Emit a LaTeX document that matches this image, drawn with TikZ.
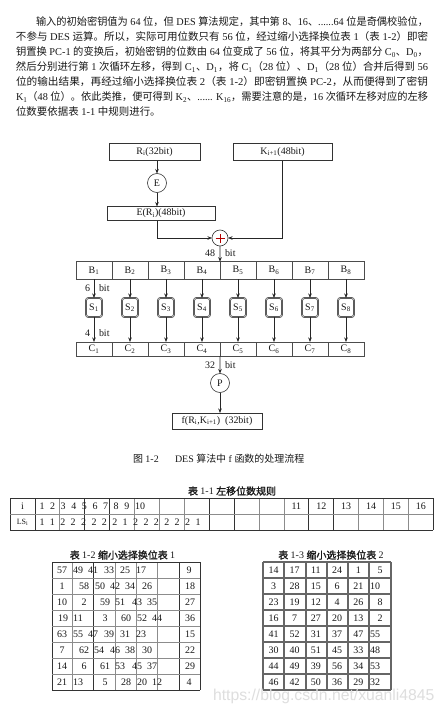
\documentclass[tikz,border=0pt]{standalone}
\usepackage{fontspec}
\usepackage{graphicx}
\usetikzlibrary{arrows.meta}
\setmainfont{Liberation Serif}
\newfontfamily\cjkf{Noto Sans CJK SC}
\newfontfamily\cjkb[FakeBold=1.5]{Noto Sans CJK SC}
\newfontfamily\wmfont{Liberation Sans}
\XeTeXinterchartokenstate=1
\newXeTeXintercharclass\CJKcls
\newcount\cjkcc
\def\setcjkrange#1#2{\cjkcc=#1 \loop\XeTeXcharclass\cjkcc=\CJKcls\relax\advance\cjkcc by 1 \ifnum\cjkcc<#2 \repeat}
\setcjkrange{"3000}{"3040}
\setcjkrange{"4E00}{"A000}
\setcjkrange{"FF00}{"FFF0}
\def\curcjk{\cjkf}
\XeTeXinterchartoks 0 \CJKcls = {\curcjk}
\XeTeXinterchartoks 4095 \CJKcls = {\curcjk}
\XeTeXinterchartoks \CJKcls 0 = {\rmfamily}
\XeTeXinterchartoks \CJKcls 4095 = {\rmfamily}
\begin{document}
\begin{tikzpicture}[x=1bp,y=-1bp,
  every node/.style={inner sep=0pt,outer sep=0pt,text=black!90},
  txt/.style={font=\fontsize{10}{12}\selectfont},
  para/.style={anchor=west,font=\fontsize{10.5}{12}\selectfont},
  ttl/.style={font=\fontsize{10}{12}\selectfont\let\curcjk\cjkb},
  boxn/.style={draw=black!80,line width=0.6bp,txt},
  circn/.style={circle,draw=black!80,line width=0.6bp,txt},
  cell/.style={draw=black!70,line width=0.6bp,minimum width=36bp,txt},
  sbox/.style={draw=black!85,line width=0.5bp,double=black!25,double distance=0.7bp,rounded corners=2.5bp,minimum width=16bp,minimum height=19bp,txt},
  arr/.style={draw=black!85,line width=0.6bp,-{Stealth[length=4.5bp,width=3.5bp]}},
  num/.style={font=\fontsize{10}{12}\selectfont},
  gl/.style={draw=black!45,line width=0.7bp},
  dl/.style={draw=black!80,line width=0.7bp},
  g3/.style={draw=black!60,line width=1.1bp}]
\useasboundingbox[fill=white] (0,0) rectangle (446,717);
% paragraph
\node[para] (p1) at (36,22) {\resizebox{392bp}{\height}{输入的初始密钥值为 64 位，但 DES 算法规定，其中第 8、16、......64 位是奇偶校验位，}};
\node[para] (p2) at (16,37) {\resizebox{412bp}{\height}{不参与 DES 运算。所以，实际可用位数只有 56 位，经过缩小选择换位表 1（表 1-2）即密}};
\node[para] (p3) at (16,52) {\resizebox{412bp}{\height}{钥置换 PC-1 的变换后，初始密钥的位数由 64 位变成了 56 位，将其平分为两部分 C\textsubscript{0}、D\textsubscript{0}，}};
\node[para] (p4) at (16,67) {\resizebox{412bp}{\height}{然后分别进行第 1 次循环左移，得到 C\textsubscript{1}、D\textsubscript{1}，将 C\textsubscript{1}（28 位）、D\textsubscript{1}（28 位）合并后得到 56}};
\node[para] (p5) at (16,82) {\resizebox{412bp}{\height}{位的输出结果，再经过缩小选择换位表 2（表 1-2）即密钥置换 PC-2，从而便得到了密钥}};
\node[para] (p6) at (16,97) {\resizebox{412bp}{\height}{K\textsubscript{1}（48 位）。依此类推，便可得到 K\textsubscript{2}、...... K\textsubscript{16}，需要注意的是，16 次循环左移对应的左移}};
\node[para] (p7) at (16,112) {位数要依据表 1-1 中规则进行。};
% diagram
\node[boxn,minimum width=91bp,minimum height=17.5bp] (R) at (154.5,152) {R\textsubscript{i}(32bit)};
\node[boxn,minimum width=99bp,minimum height=17.5bp] (K) at (282.5,152) {K\textsubscript{i+1}(48bit)};
\node[circn,minimum size=19bp] (E) at (157,183) {E};
\node[boxn,minimum width=108bp,minimum height=14bp] (ER) at (161,213.5) {E(R\textsubscript{i})(48bit)};
\node[circn,minimum size=16bp] (X) at (220,238) {};
\draw[red!70!black,line width=0.6bp] ([xshift=-4.5bp]X.center) -- ([xshift=4.5bp]X.center);
\draw[red!70!black,line width=0.6bp] ([yshift=-4.5bp]X.center) -- ([yshift=4.5bp]X.center);
\draw[arr] (R.south -| E) -- (E.north);
\draw[arr] (E.south) -- (E |- ER.north);
\draw[arr] (E |- ER.south) |- (X.west);
\draw[arr] (K.south) |- (X.east);
\foreach \k in {1,...,8}{
  \node[cell,minimum height=17.5bp] (B\k) at ({58+36*\k},270.5) {B\textsubscript{\k}};
  \node[sbox] (S\k) at ({58+36*\k},307.5) {S\textsubscript{\k}};
  \node[cell,minimum height=14bp] (C\k) at ({58+36*\k},349) {C\textsubscript{\k}};
  \draw[arr] (B\k.south) -- (S\k.north);
  \draw[arr] (S\k.south) -- (C\k.north);
}
\draw[arr] (X.south) -- (B4.north east);
\node[txt,anchor=east] (l48) at (215,253) {48};
\node[txt,anchor=west] (l48b) at (225,253) {bit};
\node[txt,anchor=east] (l6) at (90,288) {6};
\node[txt,anchor=west] (l6b) at (99,288) {bit};
\node[txt,anchor=east] (l4) at (90,333) {4};
\node[txt,anchor=west] (l4b) at (99,333) {bit};
\node[circn,minimum size=19bp] (P) at (220,383) {P};
\draw[arr] (C4.south east) -- (P.north);
\node[txt,anchor=east] (l32) at (215,365) {32};
\node[txt,anchor=west] (l32b) at (225,365) {bit};
\node[boxn,minimum width=90bp,minimum height=16bp] (F) at (217,421) {f(R\textsubscript{i},K\textsubscript{i+1})\enspace(32bit)};
\draw[arr] (P.south) -- (P |- F.north);
\node[txt,anchor=west] (cap1) at (133,459) {图 1-2};
\node[txt,anchor=west] (cap2) at (175,459) {DES 算法中 f 函数的处理流程};
% table 1-1
\node[ttl] (t11) at (232,491) {表 1-1 左移位数规则};
\foreach \j in {2,5,6,7,10,11,14,15,16} \draw[gl] ({10+24.9*\j},498) -- ({10+24.9*\j},530);
\foreach \j in {0,1,3,4,8,9,12,13,17} \draw[dl] ({10+24.9*\j},498) -- ({10+24.9*\j},530);
\draw[gl] (10,514) -- (433.3,514);
\draw[dl] (10,498) -- (433.3,498);
\draw[dl] (10,530) -- (433.3,530);
\node[num] (ti) at (22.5,506) {i};
\node[font=\fontsize{8}{10}\selectfont] (tls) at (22.5,522) {LS\textsubscript{i}};
\foreach \x/\t in {42/1,52.6/2,63.2/3,73.8/4,84.4/5,95/6,105.6/7,116.2/8,126.8/9,140/10} \node[num] at (\x,506) {\t};
\foreach \t [count=\c from 0] in {1,1,2,2,2,2,2,2,1,2,2,2,2,2,2,1} \node[num] at ({42+10.4*\c},522) {\t};
\foreach \t [count=\c from 11] in {11,12,13,14,15,16} \node[num] at ({10+24.9*(\c+0.5)},506) {\t};
% table 1-2
\node[ttl] (t12) at (122.5,555) {表 1-2 缩小选择换位表 1};
\foreach \x in {72,115,136,157} \draw[gl] (\x,562) -- (\x,690);
\foreach \x in {52,93,179,200} \draw[dl] (\x,562) -- (\x,690);
\foreach \k in {1,...,7} \draw[gl] (52,{562+16*\k}) -- (200,{562+16*\k});
\draw[dl] (52,562) -- (200,562);
\draw[dl] (52,690) -- (200,690);
\foreach \x/\t in {62/57,78/49,93/41,109/33,125/25,141/17,189/9} \node[num] at (\x,570) {\t};
\foreach \x/\t in {62/1,84/58,100/50,115/42,130/34,147/26,190/18} \node[num] at (\x,586) {\t};
\foreach \x/\t in {62/10,84/2,105/59,120/51,137/43,152/35,190/27} \node[num] at (\x,602) {\t};
\foreach \x/\t in {63/19,78/11,105/3,126/60,142/52,157/44,190/36} \node[num] at (\x,618) {\t};
\foreach \x/\t in {62/63,78/55,93/47,109/39,125/31,141/23,190/15} \node[num] at (\x,634) {\t};
\foreach \x/\t in {62/7,84/62,99/54,115/46,130/38,147/30,190/22} \node[num] at (\x,650) {\t};
\foreach \x/\t in {62/14,84/6,105/61,120/53,137/45,152/37,190/29} \node[num] at (\x,666) {\t};
\foreach \x/\t in {62/21,78/13,105/5,126/28,142/20,157/12,189/4} \node[num] at (\x,682) {\t};
% table 1-3
\node[ttl] (t13) at (331,555) {表 1-3 缩小选择换位表 2};
\foreach \x in {263,284,306,327,348,369,391} \draw[g3] (\x,562) -- (\x,690);
\foreach \k in {0,...,8} \draw[g3] (263,{562+16*\k}) -- (391,{562+16*\k});
\foreach \r [count=\i from 0] in {{14,17,11,24,1,5},{3,28,15,6,21,10},{23,19,12,4,26,8},{16,7,27,20,13,2},{41,52,31,37,47,55},{30,40,51,45,33,48},{44,49,39,56,34,53},{46,42,50,36,29,32}}{
  \foreach \t [count=\c from 0] in \r {
    \ifnum\c<5
      \node[num] at ({273.5+21.2*\c},{570+16*\i}) {\t};
    \else
      \ifnum\t<10 \node[num] at (380,{570+16*\i}) {\t};
      \else \node[num] at (375,{570+16*\i}) {\t}; \fi
    \fi
  }
}
% watermark
\node[font=\wmfont\fontsize{15.8}{18}\selectfont,text=black!13,anchor=west] (wm) at (213,696) {https://blog.csdn.net/xuanli4845};
\end{tikzpicture}
\end{document}
